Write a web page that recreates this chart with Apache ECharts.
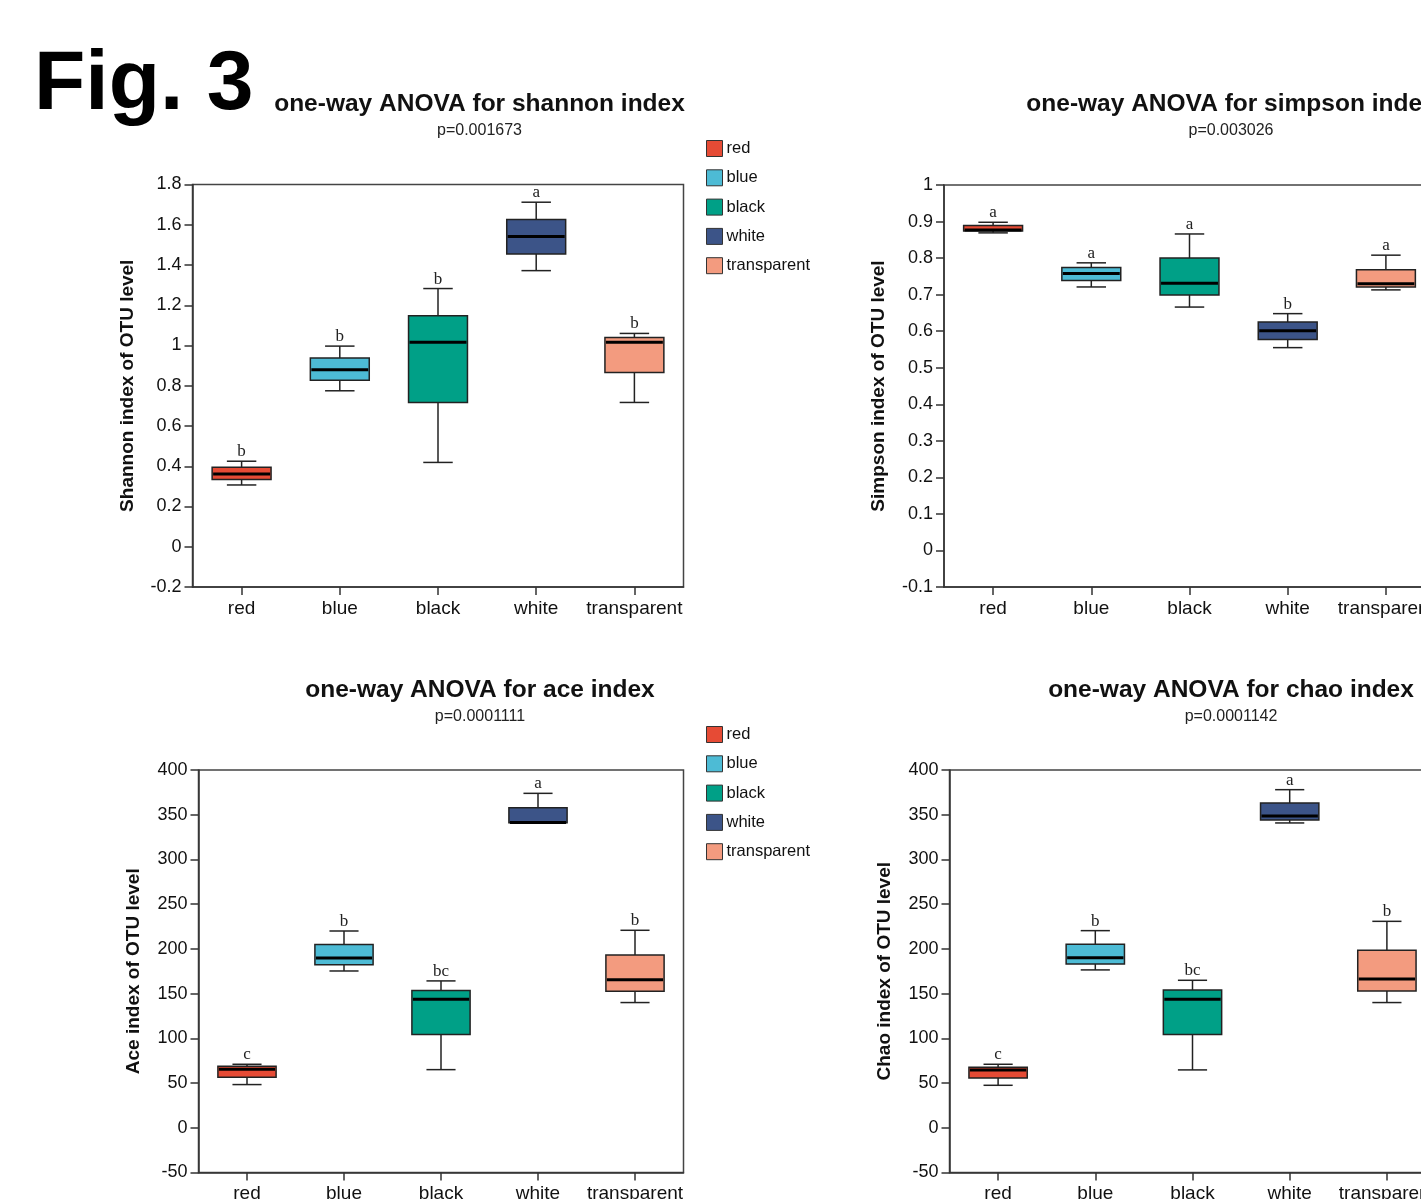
<!DOCTYPE html>
<html>
<head>
<meta charset="utf-8">
<script src="https://cdn.jsdelivr.net/npm/echarts@6/dist/echarts.min.js"></script>
<style>
html,body{margin:0;padding:0;background:#fff;}
#chart{width:1421px;height:1199px;}
</style>
</head>
<body>
<div id="chart"></div>
<script>
// ---------- data ----------
const categories = ['red', 'blue', 'black', 'white', 'transparent'];
const groupColors = ['#E64B35', '#4DBBD5', '#00A087', '#3C5488', '#F39B7F'];

// each row: [lower whisker, Q1, median, Q3, upper whisker]
const shannonStats = [
  [0.307, 0.334, 0.362, 0.395, 0.425],
  [0.775, 0.827, 0.880, 0.938, 0.997],
  [0.419, 0.717, 1.016, 1.148, 1.283],
  [1.372, 1.455, 1.541, 1.626, 1.712],
  [0.717, 0.866, 1.016, 1.040, 1.060]
];
const simpsonStats = [
  [0.869, 0.874, 0.877, 0.889, 0.898],
  [0.721, 0.739, 0.758, 0.774, 0.787],
  [0.666, 0.699, 0.731, 0.800, 0.866],
  [0.555, 0.577, 0.601, 0.625, 0.648],
  [0.713, 0.721, 0.730, 0.768, 0.808]
];
const aceStats = [
  [48.3, 56.5, 65.4, 68.8, 71.0],
  [175.3, 182.4, 189.9, 204.8, 220.0],
  [65.0, 104.2, 143.7, 153.4, 164.2],
  [340.8, 341.0, 341.2, 357.9, 373.9],
  [140.0, 152.6, 165.6, 193.2, 220.8]
];
const chaoStats = [
  [47.5, 55.7, 64.7, 67.7, 71.0],
  [176.5, 183.2, 190.0, 205.1, 220.4],
  [64.7, 104.2, 143.7, 154.1, 164.9],
  [340.8, 344.1, 348.6, 363.1, 378.0],
  [140.0, 153.0, 166.4, 198.4, 230.8]
];

const shannonLetters = ['b', 'b', 'b', 'a', 'b'];
const simpsonLetters = ['a', 'a', 'a', 'b', 'a'];
const aceLetters = ['c', 'b', 'bc', 'a', 'b'];
const chaoLetters = ['c', 'b', 'bc', 'a', 'b'];

const panelTitles = [
  'one-way ANOVA for shannon index',
  'one-way ANOVA for simpson index',
  'one-way ANOVA for ace index',
  'one-way ANOVA for chao index'
];
const pValues = ['p=0.001673', 'p=0.003026', 'p=0.0001111', 'p=0.0001142'];
const yAxisNames = [
  'Shannon index of OTU level',
  'Simpson index of OTU level',
  'Ace index of OTU level',
  'Chao index of OTU level'
];
const yMins = [-0.2, -0.1, -50, -50];
const yMaxs = [1.8, 1, 400, 400];
const yIntervals = [0.2, 0.1, 50, 50];

const figureLabel = 'Fig. 3';

// ---------- layout ----------
const allStats = [shannonStats, simpsonStats, aceStats, chaoStats];
const allLetters = [shannonLetters, simpsonLetters, aceLetters, chaoLetters];
const grids = [
  { left: 192.5, top: 184.5, width: 491, height: 402.5 },
  { left: 944, top: 185, width: 491, height: 402 },
  { left: 198.5, top: 770, width: 485, height: 402.5 },
  { left: 949.5, top: 770, width: 486, height: 402.5 }
];
const titleCenters = [[479.5, 104], [1231, 104], [480, 690], [1231, 690]];
const FONT = '"Liberation Sans", Arial, Helvetica, sans-serif';
const SERIF = '"Liberation Serif", "Times New Roman", serif';
const AXIS = '#333';

function makeRender(letter) {
  return function (params, api) {
    const x = api.value(0);
    const low = api.coord([x, api.value(1)]);
    const q1 = api.coord([x, api.value(2)]);
    const med = api.coord([x, api.value(3)]);
    const q3 = api.coord([x, api.value(4)]);
    const high = api.coord([x, api.value(5)]);
    const band = api.size([1, 0])[0];
    const bw = band * 0.6;
    const cw = band * 0.3;
    const cx = med[0];
    const fill = api.visual('color');
    const ls = { stroke: '#222', lineWidth: 1.5 };
    return {
      type: 'group',
      children: [
        { type: 'line', shape: { x1: cx, y1: high[1], x2: cx, y2: q3[1] }, style: ls },
        { type: 'line', shape: { x1: cx, y1: q1[1], x2: cx, y2: low[1] }, style: ls },
        { type: 'line', shape: { x1: cx - cw / 2, y1: high[1], x2: cx + cw / 2, y2: high[1] }, style: ls },
        { type: 'line', shape: { x1: cx - cw / 2, y1: low[1], x2: cx + cw / 2, y2: low[1] }, style: ls },
        { type: 'rect', shape: { x: cx - bw / 2, y: q3[1], width: bw, height: q1[1] - q3[1] },
          style: { fill: fill, stroke: '#222', lineWidth: 1.5 } },
        { type: 'line', shape: { x1: cx - bw / 2 + 1, y1: med[1], x2: cx + bw / 2 - 1, y2: med[1] },
          style: { stroke: '#000', lineWidth: 3 } },
        { type: 'text', x: cx, y: high[1] - 1,
          style: { text: letter, fill: '#222', font: '17px ' + SERIF, textAlign: 'center', textVerticalAlign: 'bottom' } }
      ]
    };
  };
}

const option = {
  animation: false,
  backgroundColor: '#fff',
  grid: grids.map(g => Object.assign({
    show: true, borderColor: '#444', borderWidth: 1.5, backgroundColor: 'transparent',
    containLabel: false, outerBoundsMode: 'none'
  }, g)),
  xAxis: grids.map((g, i) => ({
    type: 'category',
    gridIndex: i,
    data: categories,
    boundaryGap: true,
    axisLine: { show: true, onZero: false, lineStyle: { color: AXIS, width: 1.5 } },
    axisTick: { show: true, alignWithLabel: true, length: 8, lineStyle: { color: AXIS, width: 1.5 } },
    axisLabel: { fontSize: 19, color: '#111', margin: 12, fontFamily: FONT, interval: 0 },
    splitLine: { show: false }
  })),
  yAxis: grids.map((g, i) => ({
    type: 'value',
    gridIndex: i,
    min: yMins[i],
    max: yMaxs[i],
    interval: yIntervals[i],
    name: yAxisNames[i],
    nameLocation: 'middle',
    nameRotate: 90,
    nameGap: [55, 56, 55, 55][i],
    nameTextStyle: { fontSize: 19, fontWeight: 'bold', color: '#111', fontFamily: FONT },
    axisLine: { show: true, onZero: false, lineStyle: { color: AXIS, width: 1.5 } },
    axisTick: { show: true, length: 8, lineStyle: { color: AXIS, width: 1.5 } },
    axisLabel: { fontSize: 18, color: '#111', margin: 11, fontFamily: FONT },
    splitLine: { show: false }
  })),
  legend: [
    { left: 701, top: 135 },
    { left: 701, top: 721 }
  ].map(p => Object.assign({
    data: categories,
    orient: 'vertical',
    icon: 'rect',
    itemWidth: 16,
    itemHeight: 16,
    itemGap: 12.3,
    selectedMode: false,
    textStyle: { fontSize: 16.5, color: '#111', fontFamily: FONT, padding: [0, 0, 0, -1] },
    itemStyle: { borderColor: '#333', borderWidth: 1 }
  }, p)),
  graphic: [
    { type: 'text', left: 34, top: 44,
      style: { text: figureLabel, font: 'bold 84px ' + FONT, fill: '#000' } }
  ].concat(titleCenters.map((c, i) => ({
    type: 'text', x: c[0], y: c[1],
    style: { text: panelTitles[i], font: 'bold 24.5px ' + FONT, fill: '#111', textAlign: 'center', textVerticalAlign: 'middle' }
  }))).concat(titleCenters.map((c, i) => ({
    type: 'text', x: c[0], y: c[1] + 27,
    style: { text: pValues[i], font: '16px ' + FONT, fill: '#222', textAlign: 'center', textVerticalAlign: 'middle' }
  }))),
  series: []
};

allStats.forEach((stats, p) => {
  stats.forEach((row, c) => {
    option.series.push({
      type: 'custom',
      name: categories[c],
      xAxisIndex: p,
      yAxisIndex: p,
      itemStyle: { color: groupColors[c], borderColor: '#333' },
      encode: { x: 0, y: [1, 2, 3, 4, 5] },
      clip: false,
      renderItem: makeRender(allLetters[p][c]),
      data: [[c].concat(row)]
    });
  });
});

const chart = echarts.init(document.getElementById('chart'), null, { renderer: 'canvas' });
chart.setOption(option);
</script>
</body>
</html>
